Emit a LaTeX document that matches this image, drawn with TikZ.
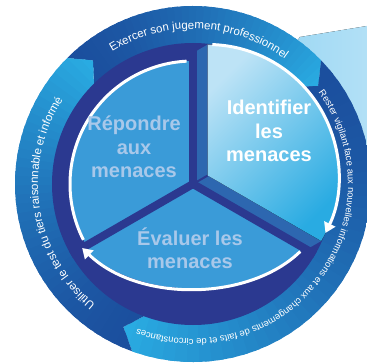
\documentclass[tikz,border=0pt]{standalone}
\usepackage{fontspec}
\setsansfont{Liberation Sans}
\usepackage{tikz}
\usetikzlibrary{calc,arrows.meta,decorations.text}

\definecolor{navy}{HTML}{2B3990}
\definecolor{ringdark}{HTML}{1B4F9E}
\definecolor{ringcyan}{HTML}{29ABE2}
\definecolor{pieblue}{HTML}{3A9BD8}
\definecolor{sideblue}{HTML}{2D67B0}
\definecolor{idlight}{HTML}{BDE3F6}
\definecolor{labelgrey}{HTML}{A8C8EA}
\definecolor{callout}{HTML}{86CFF1}
\definecolor{calloutlight}{HTML}{B2E0F6}

\newcommand{\ringpart}[2]{(#1:178) arc[start angle=#1, end angle=#2, radius=178] -- ({#2-6}:159) -- (#2:140) arc[start angle=#2, end angle=#1, radius=140] -- ({#1-6}:159) -- cycle}

\begin{document}
\begin{tikzpicture}[x=1pt, y=1pt,
    flow/.style={draw=white, line width=3pt},
    flowtip/.style={flow, -{Triangle[width=12pt,length=10pt]}},
    sectorlabel/.style={align=center, font=\sffamily\bfseries\fontsize{20}{23.5}\selectfont},
    ringtext/.style={decorate, decoration={text along path, text align=center, text={#1}}}]
  \useasboundingbox (-193,-180) rectangle (174,184);
  \fill[left color=callout, right color=calloutlight] (107,147) -- (174,158) -- (174,20) -- (0,0) -- cycle;
  \foreach \a/\b in {135/44, 44/-110, 250/135} {
    \begin{scope}
      \clip \ringpart{\a}{\b};
      \foreach \i in {0,...,39} {
        \pgfmathsetmacro{\t}{\a+(\b-6-\a)*\i/40}
        \pgfmathsetmacro{\u}{\a+(\b-6-\a)*(\i+1.5)/40}
        \pgfmathsetmacro{\m}{100*(\i/39)^1.5}
        \fill[ringcyan!\m!ringdark] (0,0) -- (\t:190) arc[start angle=\t, end angle=\u, radius=190] -- cycle;
      }
    \end{scope}
  }
  \fill[navy] (0,0) circle[radius=141];
  \fill[pieblue] (0,0) -- (90:123) arc[start angle=90, end angle=210, radius=123] -- cycle;
  \fill[pieblue] (0,0) -- (210:128) .. controls (-55,-118) and (55,-118) .. (330:128) -- cycle;
  \coordinate (O) at (30:17);
  \fill[sideblue] (0,0) -- (90:131) -- ($(O)+(90:131)$) -- (O) -- ($(O)+(-30:131)$) -- (-30:131) -- cycle;
  \foreach \a in {90,210,330}
    \draw[navy, line width=8pt] (0,0) -- (\a:141);
  \draw[navy, line width=2pt] (0,0) -- (O);
  \fill[top color=idlight, bottom color=ringcyan, shading angle=45] (O) -- ($(O)+(90:131)$) arc[start angle=90, end angle=-30, radius=131] -- cycle;
  \draw[flow] (207:123) arc[start angle=207, end angle=93, radius=123];
  \draw[flowtip, shorten <=5pt] (330:128) .. controls (55,-118) and (-55,-118) .. (210:128);
  \draw[flowtip] ($(O)+(88:131)$) arc[start angle=88, end angle=-26, radius=131];
  \node[sectorlabel, text=labelgrey] (respond) at (-59,37) {Répondre\\aux\\menaces};
  \node[sectorlabel, text=white] (identify) at (76,53) {Identifier\\les\\menaces};
  \node[sectorlabel, text=labelgrey] (assess) at (-3,-64) {Évaluer les\\menaces};
  \path[ringtext={|\sffamily\fontsize{11.5}{13}\selectfont\color{white}|Exercer son jugement professionnel}] (140:155) arc[start angle=140, end angle=35, radius=155];
  \path[ringtext={|\sffamily\fontsize{9.4}{11}\selectfont\color{white}|Rester vigilant face aux nouvelles informations et aux changements de faits et de circonstances}] (60:155) arc[start angle=60, end angle=-135, radius=155];
  \path[ringtext={|\sffamily\fontsize{11.5}{13}\selectfont\color{white}|Utiliser le test du tiers raisonnable et informé}] (265:155) arc[start angle=265, end angle=113, radius=155];
\end{tikzpicture}
\end{document}
